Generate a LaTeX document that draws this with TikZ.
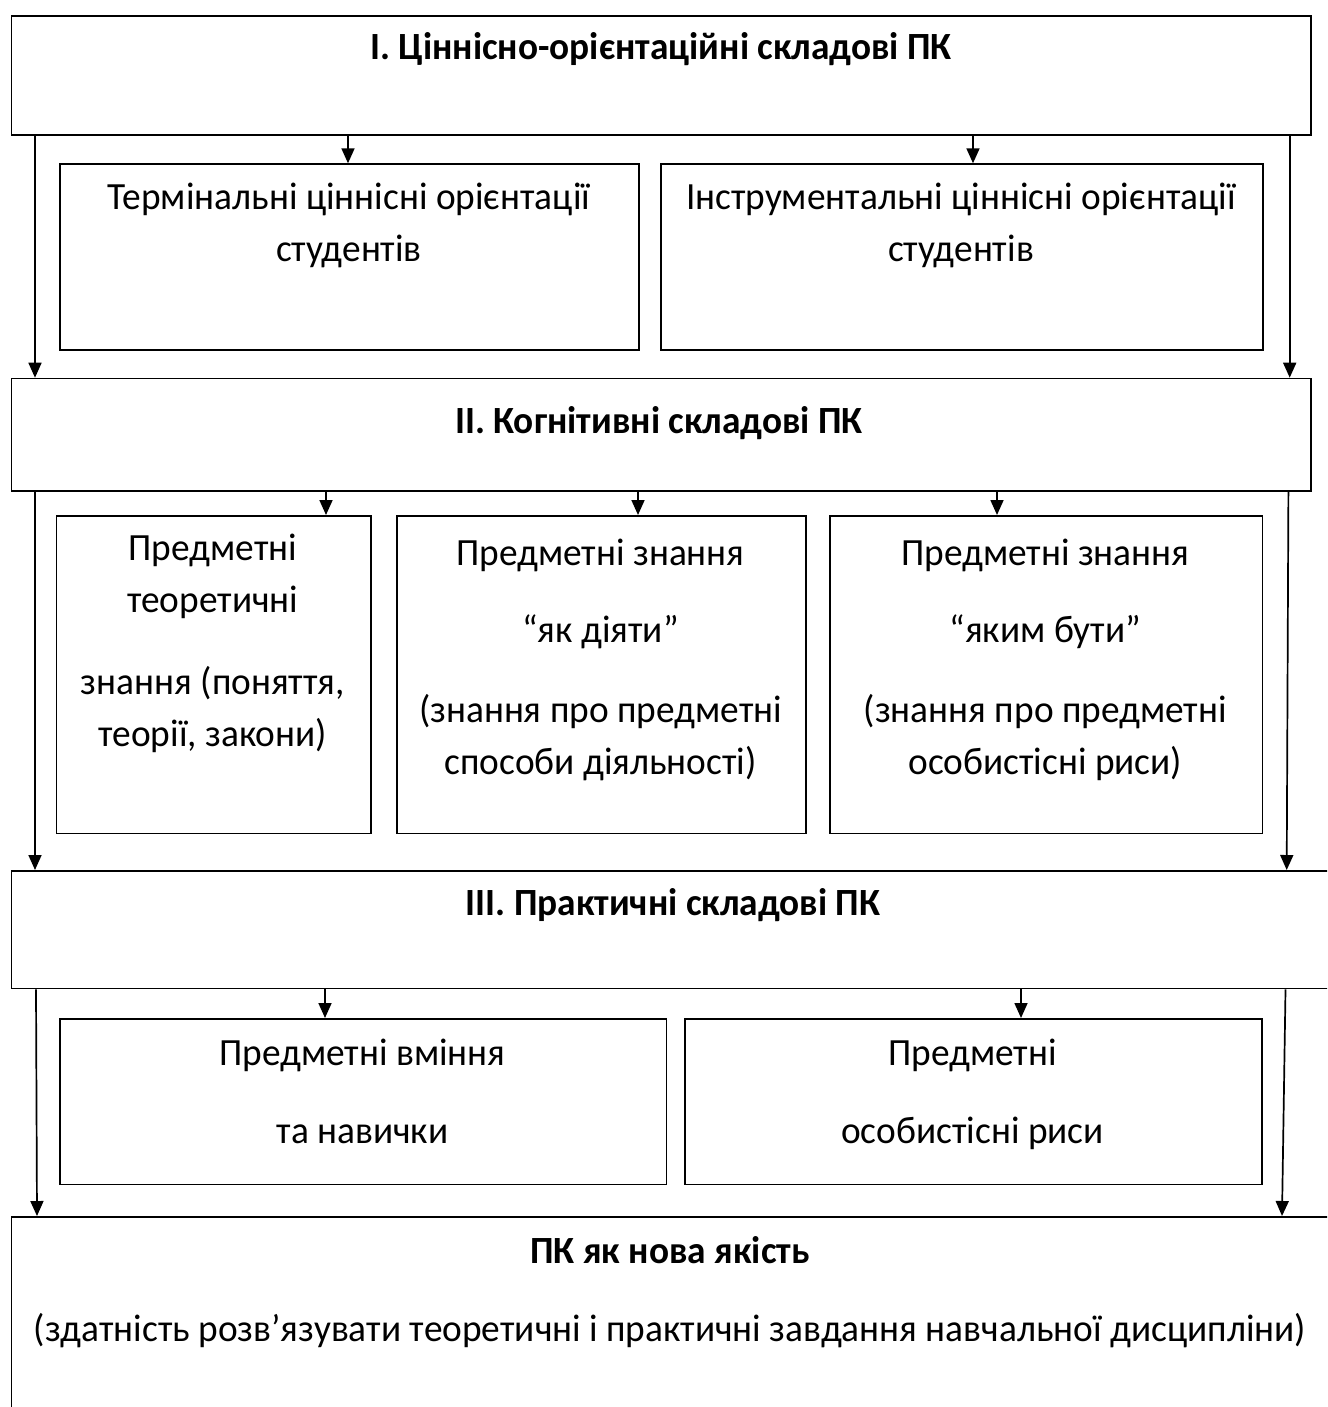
\documentclass[tikz,border=0pt]{standalone}
\usepackage{fontspec}
\setmainfont{Carlito}[FakeStretch=0.97]
\usepackage{tikz}
\usetikzlibrary{arrows.meta}
\tikzset{
  box/.style={draw,line width=1.7pt,anchor=north west,inner sep=0pt},
  txt/.style={anchor=base,align=center,inner sep=0pt,font=\fontsize{38.5}{52}\selectfont},
  arr/.style={line width=1.7pt,-{Triangle[length=15pt,width=13pt]}}
}
\begin{document}
\begin{tikzpicture}[x=1pt,y=-1pt]
			\path[use as bounding box,clip] (0,0) rectangle (1327,1407);
			% levels
			\node[box,minimum width=1299.3pt,minimum height=119pt] (I) at (10.7,15) {};
			\node[box,minimum width=579pt,minimum height=186pt] (Ta) at (59.4,163.3) {};
			\node[box,minimum width=602pt,minimum height=186pt] (Tb) at (660,163.3) {};
			\node[box,minimum width=1299.3pt,minimum height=112.3pt] (II) at (10.7,377.7) {};
			\node[box,minimum width=314.3pt,minimum height=317.7pt] (Ka) at (55.7,515) {};
			\node[box,minimum width=409pt,minimum height=317.7pt] (Kb) at (396,515) {};
			\node[box,minimum width=432.7pt,minimum height=317.7pt] (Kc) at (829,515) {};
			\node[box,minimum width=1329.3pt,minimum height=117.7pt] (III) at (10.7,870) {};
			\node[box,minimum width=606.2pt,minimum height=165.5pt] (Pa) at (59.4,1018) {};
			\node[box,minimum width=577pt,minimum height=165.5pt] (Pb) at (684,1018) {};
			\node[box,minimum width=1329.3pt,minimum height=204pt] (IV) at (10.7,1216) {};
			% texts (base = last line)
			\node[txt] (tI) at (661,60) {\bfseries І. Ціннісно-орієнтаційні складові ПК};
			\node[txt] (tTa) at (349,261.7) {Термінальні ціннісні орієнтації\\студентів};
			\node[txt] (tTb) at (961,261.7) {Інструментальні ціннісні орієнтації\\студентів};
			\node[txt] (tII) at (659,433) {\bfseries ІІ. Когнітивні складові ПК};
			\node[txt] (tKa) at (212.8,746.7) {Предметні\\теоретичні\\[30pt]знання (поняття,\\теорії, закони)};
			\node[txt] (tKb) at (600.5,774) {Предметні знання\\[25pt]“як діяти”\\[28pt](знання про предметні\\способи діяльності)};
			\node[txt] (tKc) at (1045.3,774) {Предметні знання\\[25pt]“яким бути”\\[28pt](знання про предметні\\особистісні риси)};
			\node[txt] (tIII) at (673,915) {\bfseries ІІІ. Практичні складові ПК};
			\node[txt] (tPa) at (362.5,1143.3) {Предметні вміння\\[26pt]та навички};
			\node[txt] (tPb) at (972.5,1143.3) {Предметні\\[26pt]особистісні риси};
			\node[txt] (tIV) at (670,1341) {\bfseries ПК як нова якість\\[26pt](здатність розв’язувати теоретичні і практичні завдання навчальної дисципліни)};
			% arrows
			\draw[arr] ([xshift=337.3pt]I.south west) -- ([xshift=288.6pt]Ta.north west);
			\draw[arr] ([xshift=962.3pt]I.south west) -- ([xshift=313pt]Tb.north west);
			\draw[arr] ([xshift=24.3pt]I.south west) -- ([xshift=24.3pt]II.north west);
			\draw[arr] ([xshift=-22pt]I.south east) -- ([xshift=-22pt]II.north east);
			\draw[arr] ([xshift=315.3pt]II.south west) -- ([xshift=270.3pt]Ka.north west);
			\draw[arr] ([xshift=627.3pt]II.south west) -- ([xshift=242pt]Kb.north west);
			\draw[arr] ([xshift=986.3pt]II.south west) -- ([xshift=168pt]Kc.north west);
			\draw[arr] ([xshift=24.3pt]II.south west) -- ([xshift=24.3pt]III.north west);
			\draw[arr] ([xshift=-23.3pt]II.south east) -- ([xshift=1276pt]III.north west);
			\draw[arr] ([xshift=314.3pt]III.south west) -- ([xshift=265.6pt]Pa.north west);
			\draw[arr] ([xshift=1010.3pt]III.south west) -- ([xshift=337pt]Pb.north west);
			\draw[arr] ([xshift=25.3pt]III.south west) -- ([xshift=26.3pt]IV.north west);
			\draw[arr] ([xshift=1274.8pt]III.south west) -- ([xshift=1271.3pt]IV.north west);
\end{tikzpicture}
\end{document}
